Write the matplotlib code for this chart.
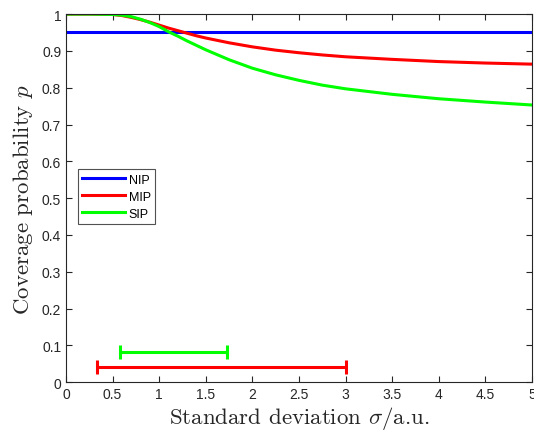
import numpy as np
import matplotlib
matplotlib.use("Agg")
import matplotlib.pyplot as plt
from matplotlib.ticker import FuncFormatter

plt.rcParams['font.family'] = ['Liberation Sans', 'DejaVu Sans']
plt.rcParams['mathtext.fontset'] = 'cm'

# values
sigma = [0, 0.25, 0.5, 0.6, 0.7, 0.8, 0.9, 1.0, 1.1, 1.2, 1.3, 1.4, 1.5,
         1.75, 2.0, 2.25, 2.5, 2.75, 3.0, 3.5, 4.0, 4.5, 5.0]
nip = [0.95] * len(sigma)
mip = [1, 1, 0.999, 0.996, 0.991, 0.985, 0.978, 0.970, 0.962, 0.955, 0.948,
       0.941, 0.935, 0.922, 0.911, 0.902, 0.895, 0.889, 0.884, 0.877, 0.871,
       0.867, 0.864]
sip = [1, 1, 0.999, 0.997, 0.993, 0.986, 0.977, 0.966, 0.952, 0.94, 0.927,
       0.915, 0.903, 0.876, 0.853, 0.835, 0.82, 0.807, 0.797, 0.782, 0.77,
       0.761, 0.753]

# validity ranges (lo, hi, y level)
sip_range = (0.58, 1.73, 0.083)
mip_range = (0.33, 3.0, 0.040)

blue, red, green = '#0000ff', '#ff0000', '#00ff00'

fig = plt.figure(figsize=(5.34, 4.31), dpi=100)
ax = fig.add_axes([0.1236, 0.111, 0.8724, 0.854])

ax.plot(sigma, nip, color=blue, lw=2.2, label='NIP')
ax.plot(sigma, mip, color=red, lw=2.2, label='MIP')
ax.plot(sigma, sip, color=green, lw=2.2, label='SIP')

for (lo, hi, yv), c in [(sip_range, green), (mip_range, red)]:
    ax.errorbar([(lo + hi) / 2], [yv], xerr=[(hi - lo) / 2], color=c,
                lw=2.2, capsize=5, capthick=2.2, fmt='none')

ax.set_xlim(0, 5)
ax.set_ylim(0, 1)
ax.set_xticks(np.arange(0, 5.01, 0.5))
ax.set_yticks(np.arange(0, 1.01, 0.1))
fmt = FuncFormatter(lambda v, p: ('%g' % round(v, 2)))
ax.xaxis.set_major_formatter(fmt)
ax.yaxis.set_major_formatter(fmt)
ax.tick_params(direction='in', top=True, right=True, length=4, width=0.8,
               colors='#262626', labelsize=10, labelcolor='#262626')
for s in ax.spines.values():
    s.set_color('#262626')
    s.set_linewidth(0.8)

ax.set_xlabel(r'Standard deviation $\sigma$/a.u.', family='cmr10',
              fontsize=16.5, color='#262626', labelpad=2)
ax.set_ylabel(r'Coverage probability $p$', family='cmr10',
              fontsize=16.5, color='#262626', labelpad=5)

leg = ax.legend(loc='upper left', bbox_to_anchor=(0.026, 0.578), fontsize=9,
                frameon=True, fancybox=False, edgecolor='#262626',
                handlelength=3.4, handletextpad=0.3, borderpad=0.35,
                labelspacing=0.4, borderaxespad=0)
leg.get_frame().set_linewidth(0.8)

fig.savefig('out.png', dpi=100)
